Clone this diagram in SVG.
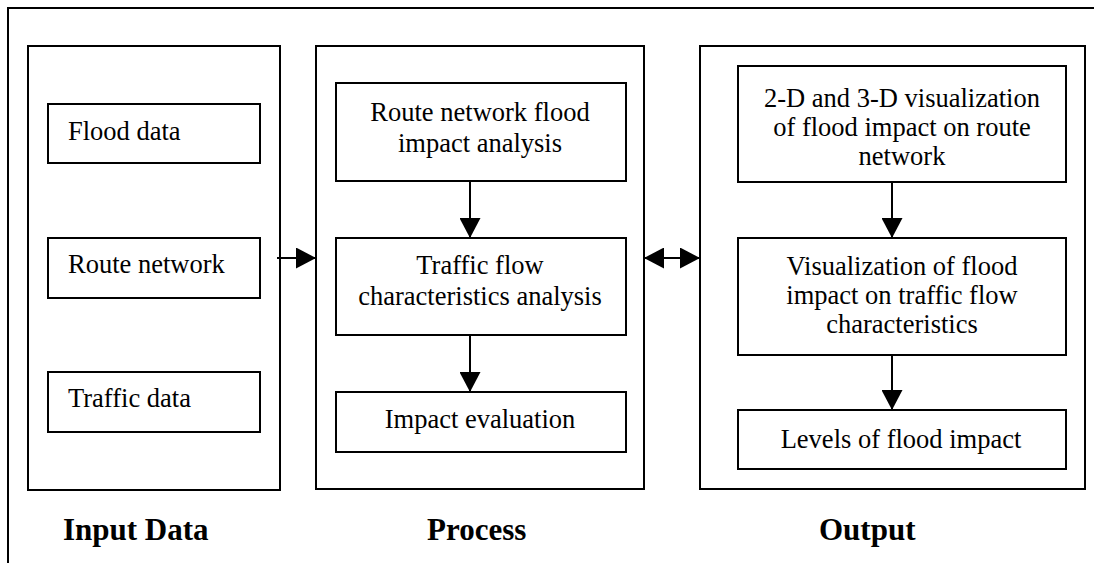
<svg xmlns="http://www.w3.org/2000/svg" width="1094" height="563" viewBox="0 0 1094 563">
<style>
.box{fill:none;stroke:#000;stroke-width:2}
.t{font-family:"Liberation Serif","Times New Roman",serif;font-size:26.5px;fill:#000}
.c{text-anchor:middle}
.h{font-family:"Liberation Serif","Times New Roman",serif;font-size:31px;font-weight:bold;fill:#000}
.ln{fill:none;stroke:#000;stroke-width:2}
</style>
<defs>
<marker id="ah" viewBox="0 0 20 21" refX="20" refY="10.5" markerWidth="20" markerHeight="21" markerUnits="userSpaceOnUse" orient="auto-start-reverse">
<path d="M0,0 L20,10.5 L0,21 Z" fill="#000"/>
</marker>
</defs>
<rect width="1094" height="563" fill="#fff"/>
<path class="ln" d="M8,563 V8 H1094"/>

<g id="input">
<rect class="box" x="28" y="46" width="252" height="444"/>
<text class="h" x="63" y="540">Input Data</text>
</g>
<g id="flood-data">
<rect class="box" x="48" y="104" width="212" height="59"/>
<text class="t" x="68" y="140">Flood data</text>
</g>
<g id="route-network">
<rect class="box" x="48" y="238" width="212" height="60"/>
<text class="t" x="68" y="273">Route network</text>
</g>
<g id="traffic-data">
<rect class="box" x="48" y="372" width="212" height="60"/>
<text class="t" x="68" y="407">Traffic data</text>
</g>

<g id="process">
<rect class="box" x="316" y="46" width="328" height="443"/>
<text class="h" x="427" y="540">Process</text>
</g>
<g id="route-impact">
<rect class="box" x="336" y="83" width="290" height="98"/>
<text class="t c" x="480" y="121">Route network flood</text>
<text class="t c" x="480" y="152">impact analysis</text>
</g>
<g id="traffic-flow">
<rect class="box" x="336" y="238" width="290" height="97"/>
<text class="t c" x="480" y="274">Traffic flow</text>
<text class="t c" x="480" y="305">characteristics analysis</text>
</g>
<g id="impact-eval">
<rect class="box" x="336" y="392" width="290" height="60"/>
<text class="t c" x="480" y="428">Impact evaluation</text>
</g>

<g id="output">
<rect class="box" x="700" y="46" width="385" height="443"/>
<text class="h" x="819" y="540">Output</text>
</g>
<g id="viz-route">
<rect class="box" x="738" y="66" width="328" height="116"/>
<text class="t c" x="902" y="107">2-D and 3-D visualization</text>
<text class="t c" x="902" y="136">of flood impact on route</text>
<text class="t c" x="902" y="165">network</text>
</g>
<g id="viz-traffic">
<rect class="box" x="738" y="238" width="328" height="117"/>
<text class="t c" x="902" y="275">Visualization of flood</text>
<text class="t c" x="902" y="304">impact on traffic flow</text>
<text class="t c" x="902" y="333">characteristics</text>
</g>
<g id="levels">
<rect class="box" x="738" y="410" width="328" height="59"/>
<text class="t c" x="901" y="448">Levels of flood impact</text>
</g>

<g id="connectors">
<line class="ln" x1="277" y1="258" x2="316" y2="258" marker-end="url(#ah)"/>
<line class="ln" x1="644" y1="258" x2="700" y2="258" marker-start="url(#ah)" marker-end="url(#ah)"/>
<line class="ln" x1="470" y1="181" x2="470" y2="238" marker-end="url(#ah)"/>
<line class="ln" x1="470" y1="335" x2="470" y2="392" marker-end="url(#ah)"/>
<line class="ln" x1="892" y1="182" x2="892" y2="238" marker-end="url(#ah)"/>
<line class="ln" x1="892" y1="355" x2="892" y2="410" marker-end="url(#ah)"/>
</g>
</svg>
